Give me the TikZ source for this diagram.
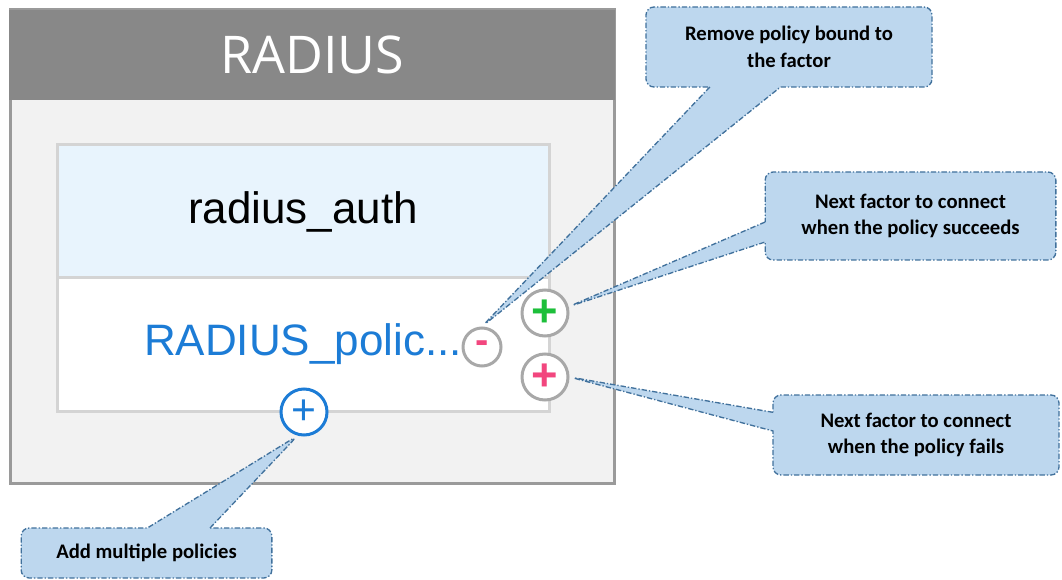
\documentclass[tikz,border=0pt]{standalone}
\usepackage{fontspec}
\usetikzlibrary{shapes.callouts}
\newfontfamily\headfont{Open Sans}
\newfontfamily\uifont{Liberation Sans}
\newfontfamily\notefont{Carlito}
\definecolor{headgray}{HTML}{888888}
\definecolor{framegray}{HTML}{9A9A9A}
\definecolor{bodygray}{HTML}{F2F2F2}
\definecolor{boxgray}{HTML}{D4D4D4}
\definecolor{authfill}{HTML}{E8F4FD}
\definecolor{policyblue}{HTML}{1C7CD6}
\definecolor{btngray}{HTML}{A8A8A8}
\definecolor{okgreen}{HTML}{1DBF3A}
\definecolor{failpink}{HTML}{F2467E}
\definecolor{notefill}{HTML}{BDD7EE}
\definecolor{noteline}{HTML}{41719C}

\begin{document}
\begin{tikzpicture}[
    x=0.75pt, y=-0.75pt,
    radiusframe/.style={rectangle, draw=framegray, line width=2.25pt, fill=bodygray, minimum width=453pt, minimum height=354.75pt, inner sep=0pt},
    radiushead/.style={rectangle, fill=headgray, text=white, minimum width=455pt, minimum height=68pt, inner sep=0pt, font=\headfont\fontsize{39}{44}\selectfont},
    authbox/.style={rectangle, draw=boxgray, line width=2.25pt, fill=authfill, minimum width=369pt, minimum height=99.75pt, inner sep=0pt, font=\uifont\fontsize{33}{38}\selectfont},
    policybox/.style={rectangle, draw=boxgray, line width=2.25pt, fill=white, text=policyblue, minimum width=369pt, minimum height=99.75pt, inner sep=0pt, font=\uifont\fontsize{33}{38}\selectfont},
    btn/.style={circle, draw=btngray, line width=2.25pt, fill=white, inner sep=0pt, minimum size=34.5pt, font=\uifont\bfseries\fontsize{34}{34}\selectfont},
    note/.style={rectangle callout, rounded corners=6pt, fill=notefill, draw=noteline, line width=1pt, dash pattern=on 4pt off 1.5pt on 1pt off 1.5pt, align=center, inner sep=0pt, font=\notefont\bfseries\fontsize{15.5}{20}\selectfont}
  ]
  \useasboundingbox (0,0) rectangle (1062,580);

  \node[radiusframe] (frame) at (312,246.5) {};
  \node[radiushead] (head) at (312,55) {RADIUS};
  \node[authbox] (auth) at (303,211.5) {radius\_auth};
  \node[policybox] (policy) at (303,344.5) {RADIUS\_polic...};

  \node[btn, minimum size=28.5pt, text=failpink, font=\uifont\bfseries\fontsize{30}{30}\selectfont] (remove) at (482,347) {-};
  \node[btn, text=okgreen] (success) at (545,313) {+};
  \node[btn, text=failpink] (failure) at (545,377) {+};
  \node[btn, draw=policyblue, text=policyblue, font=\uifont\fontsize{32}{32}\selectfont] (add) at (304,412) {+};

  \node[note, callout absolute pointer=(remove.north), callout pointer width=53pt, minimum width=214.5pt, minimum height=60pt] (removenote) at (789,47) {Remove policy bound to\\the factor};
  \node[note, callout absolute pointer=(success.15), callout pointer width=15pt, minimum width=218pt, minimum height=66pt] (successnote) at (910.5,216) {Next factor to connect\\when the policy succeeds};
  \node[note, callout absolute pointer=(failure.east), callout pointer width=14pt, minimum width=214.5pt, minimum height=60pt] (failurenote) at (916,435) {Next factor to connect\\when the policy fails};
  \node[note, callout absolute pointer=(add.-105), callout pointer width=47pt, minimum width=188pt, minimum height=37.5pt] (addnote) at (146.5,553) {Add multiple policies};
\end{tikzpicture}
\end{document}
